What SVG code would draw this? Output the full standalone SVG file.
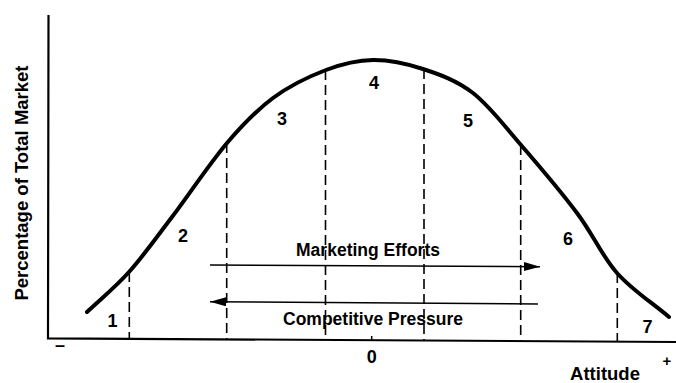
<svg xmlns="http://www.w3.org/2000/svg" width="676" height="383" viewBox="0 0 676 383">
<style>
text{font-family:"Liberation Sans",Arial,sans-serif;font-weight:bold;fill:#000}
.axis{stroke:#000;stroke-width:2.2;fill:none}
.curve{stroke:#000;stroke-width:4;fill:none;stroke-linecap:round}
.dash{stroke:#000;stroke-width:1.6;stroke-dasharray:10,5;fill:none}
.arr{stroke:#000;stroke-width:1.5;fill:none}
.num{font-size:18px;text-anchor:middle}
.lbl{font-size:17.5px;text-anchor:middle}
</style>
<defs>
<marker id="ah" markerUnits="userSpaceOnUse" markerWidth="17" markerHeight="10" refX="16" refY="4.5" orient="auto">
<path d="M0,0 L16,4.5 L0,9 Z" fill="#000"/>
</marker>
</defs>
<rect width="676" height="383" fill="#fff"/>
<g id="axes">
<path class="axis" d="M48.5,15 L48,338.3 L676,342"/>
<line x1="371.7" y1="336" x2="371.7" y2="340.5" stroke="#000" stroke-width="1.5"/>
<text x="27.5" y="183" transform="rotate(-90 27.5 183)" font-size="18.5" text-anchor="middle">Percentage of Total Market</text>
<text x="60" y="351" font-size="18" text-anchor="middle">–</text>
<text x="371.7" y="363" class="num">0</text>
<text x="667" y="366" font-size="15" text-anchor="middle">+</text>
<text x="605" y="380" font-size="18.5" text-anchor="middle">Attitude</text>
</g>
<g id="curve">
<path class="curve" d="M87,312 C101,298.7 114.8,287.8 129,272 C143.2,256.2 155.7,238.5 172,217 C188.3,195.5 210.2,162.8 227,143 C243.8,123.2 256.5,110.2 273,98 C289.5,85.8 309.3,76.3 326,70 C342.7,63.7 356.8,60.2 373,60 C389.2,59.8 406.3,63.5 423,69 C439.7,74.5 456.7,80.3 473,93 C489.3,105.7 503.7,125 521,145 C538.3,165 561,191.7 577,213 C593,234.3 601.7,255.7 617,273 C632.3,290.3 651.7,302.3 669,317"/>
</g>
<g id="dividers">
<line class="dash" x1="129.3" y1="272" x2="129.3" y2="338.8"/>
<line class="dash" x1="226.7" y1="143" x2="226.7" y2="339.4"/>
<line class="dash" x1="325.5" y1="70" x2="325.5" y2="339.9"/>
<line class="dash" x1="424" y1="69" x2="424" y2="340.5"/>
<line class="dash" x1="520.7" y1="145" x2="520.7" y2="341.1"/>
<line class="dash" x1="617.3" y1="273" x2="617.3" y2="341.7"/>
</g>
<g id="segments">
<text x="112.5" y="327" class="num">1</text>
<text x="183" y="242" class="num">2</text>
<text x="282" y="125" class="num">3</text>
<text x="374" y="88.5" class="num">4</text>
<text x="468" y="127" class="num">5</text>
<text x="568" y="245" class="num">6</text>
<text x="647.5" y="333" class="num">7</text>
</g>
<g id="connectors">
<line class="arr" x1="210" y1="265" x2="540" y2="266.7" marker-end="url(#ah)"/>
<line class="arr" x1="538" y1="304" x2="210" y2="301.7" marker-end="url(#ah)"/>
</g>
<g id="marketing-efforts">
<text x="368" y="256" class="lbl">Marketing Efforts</text>
</g>
<g id="competitive-pressure">
<text x="373" y="325" class="lbl">Competitive Pressure</text>
</g>
</svg>
